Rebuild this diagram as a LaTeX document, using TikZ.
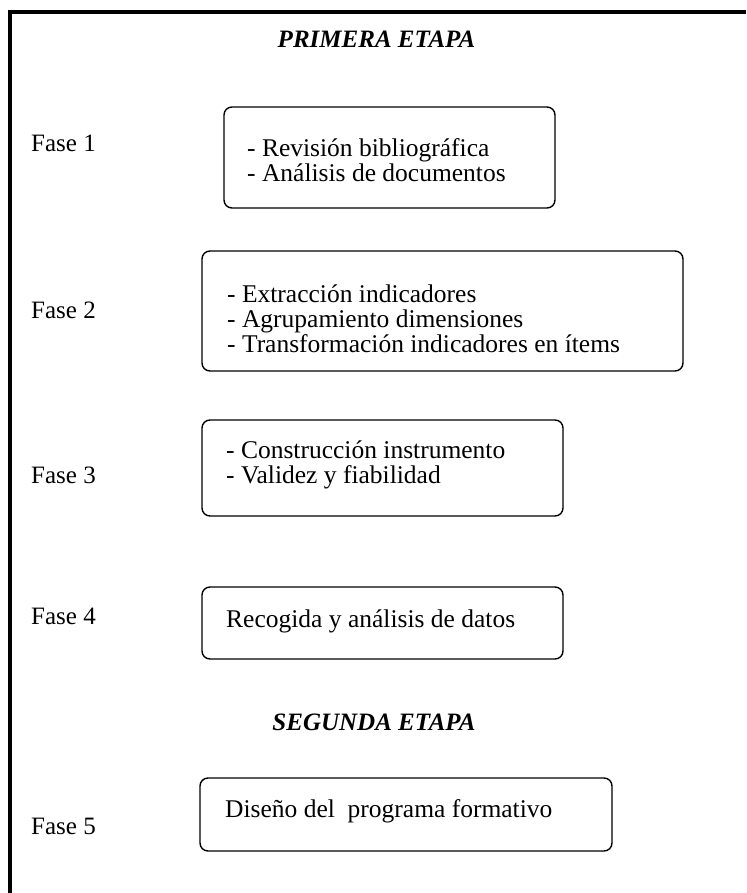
\documentclass[tikz,border=0pt]{standalone}
\usepackage{fontspec}
\setmainfont{Liberation Serif}
\begin{document}
\begin{tikzpicture}[x=1pt,y=-1pt,
  phasebox/.style={draw=black, line width=1.4pt, rounded corners=8pt, inner sep=0pt, outer sep=0pt},
  boxtext/.style={anchor=base west, inner sep=0pt, font=\fontsize{25.5}{25}\selectfont},
  faselabel/.style={anchor=base west, inner sep=0pt, font=\fontsize{25}{25}\selectfont},
  stagetitle/.style={anchor=base, inner sep=0pt, font=\fontsize{25}{25}\selectfont\bfseries\itshape}]
\useasboundingbox (0,0) rectangle (746,893);
% outer frame (left and top sides)
\draw[line width=4pt] (10,893) -- (10,12) -- (746,12);

% stage titles
\node[stagetitle] (etapa1) at (376.5,48) {PRIMERA ETAPA};
\node[stagetitle] (etapa2) at (374,730) {SEGUNDA ETAPA};

% phase labels
\node[faselabel] (f1) at (31,152) {Fase 1};
\node[faselabel] (f2) at (31,318) {Fase 2};
\node[faselabel] (f3) at (31,483) {Fase 3};
\node[faselabel] (f4) at (31,624) {Fase 4};
\node[faselabel] (f5) at (31,834) {Fase 5};

% boxes
\node[phasebox, minimum width=331pt, minimum height=101pt] (b1) at (389.5,157.5) {};
\node[phasebox, minimum width=481pt, minimum height=120pt] (b2) at (442.5,311) {};
\node[phasebox, minimum width=361pt, minimum height=96pt]  (b3) at (382.5,468) {};
\node[phasebox, minimum width=361pt, minimum height=72pt]  (b4) at (382.5,623) {};
\node[phasebox, minimum width=412pt, minimum height=73pt]  (b5) at (406,814.5) {};

% box texts
\node[boxtext] (t1a) at (247,157) {- Revisión bibliográfica};
\node[boxtext] (t1b) at (247,182) {- Análisis de documentos};

\node[boxtext] (t2a) at (227,302) {- Extracción indicadores};
\node[boxtext] (t2b) at (227,327) {- Agrupamiento dimensiones};
\node[boxtext] (t2c) at (227,352) {- Transformación indicadores en ítems};

\node[boxtext] (t3a) at (226,458) {- Construcción instrumento};
\node[boxtext] (t3b) at (226,483) {- Validez y fiabilidad};

\node[boxtext] (t4) at (226,627) {Recogida y análisis de datos};

\node[boxtext] (t5) at (225,817) {Diseño del\ \ programa formativo};
\end{tikzpicture}
\end{document}
